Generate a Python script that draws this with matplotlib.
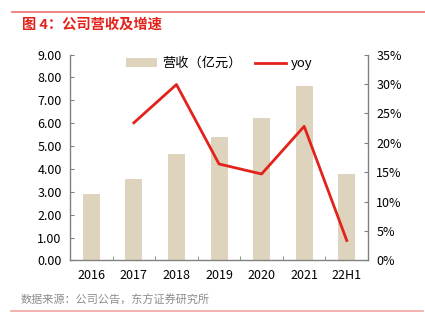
import matplotlib.pyplot as plt
import numpy as np
from matplotlib.ticker import FuncFormatter, MultipleLocator

plt.rcParams['font.family'] = ['Noto Sans CJK SC', 'DejaVu Sans']

# 营收（亿元）与同比增速
years = ['2016', '2017', '2018', '2019', '2020', '2021', '22H1']
revenue = [2.90, 3.56, 4.65, 5.39, 6.21, 7.62, 3.76]
yoy = [np.nan, 23.4, 29.9, 16.4, 14.7, 22.8, 3.4]

bar_color = '#DED4BD'
line_color = '#E3231B'
axis_color = '#808080'

fig = plt.figure(figsize=(4.25, 3.28), dpi=100)
ax = fig.add_axes([0.1647, 0.2058, 0.7013, 0.628])
x = np.arange(len(years))

ax.bar(x, revenue, width=0.4, color=bar_color, label='营收（亿元）', zorder=2)
ax.set_xlim(-0.5, len(years) - 0.5)
ax.set_ylim(0, 9)
ax.yaxis.set_major_locator(MultipleLocator(1))
ax.yaxis.set_major_formatter(FuncFormatter(lambda v, p: f'{v:.2f}'))
ax.set_xticks(x)
ax.set_xticklabels(years)
ax.set_xticks(np.arange(0.5, len(years) - 1, 1), minor=True)

ax2 = ax.twinx()
ax2.plot(x, yoy, color=line_color, lw=2, label='yoy', zorder=3)
ax2.set_ylim(0, 35)
ax2.yaxis.set_major_locator(MultipleLocator(5))
ax2.yaxis.set_major_formatter(FuncFormatter(lambda v, p: f'{v:.0f}%'))

for a in (ax, ax2):
    a.spines['top'].set_visible(False)
    for s in ('left', 'right', 'bottom'):
        a.spines[s].set_color(axis_color)
        a.spines[s].set_linewidth(1)
    a.tick_params(axis='y', direction='in', length=3, color=axis_color,
                  labelsize=9, labelcolor='black', pad=6)
ax.tick_params(axis='x', which='major', length=0, labelsize=9, pad=6)
ax.tick_params(axis='x', which='minor', direction='in', length=3, color=axis_color)
ax2.spines['left'].set_visible(False)
ax2.spines['bottom'].set_visible(False)
ax.spines['right'].set_visible(False)

h1, l1 = ax.get_legend_handles_labels()
h2, l2 = ax2.get_legend_handles_labels()
ax2.legend(h1 + h2, l1 + l2, loc='upper center', bbox_to_anchor=(0.5, 1.045),
           ncol=2, frameon=False, fontsize=9.5, handlelength=2.4,
           handleheight=0.6, columnspacing=1.0, handletextpad=0.35)

# 标题、来源和分隔线
fig.add_artist(plt.Line2D([0.028, 1.0], [0.962, 0.962], color='#E8716B', lw=1.2))
fig.text(0.052, 0.947, '图 4：公司营收及增速', color='#E3231B', fontsize=10.3,
         fontweight='bold', va='top')
fig.text(0.049, 0.083, '数据来源：公司公告，东方证券研究所', color='#8C8C8C',
         fontsize=8, va='center')
fig.add_artist(plt.Line2D([0.026, 0.996], [0.053, 0.053], color='#F0A6A1', lw=1.2))

fig.savefig('out.png', dpi=100)
